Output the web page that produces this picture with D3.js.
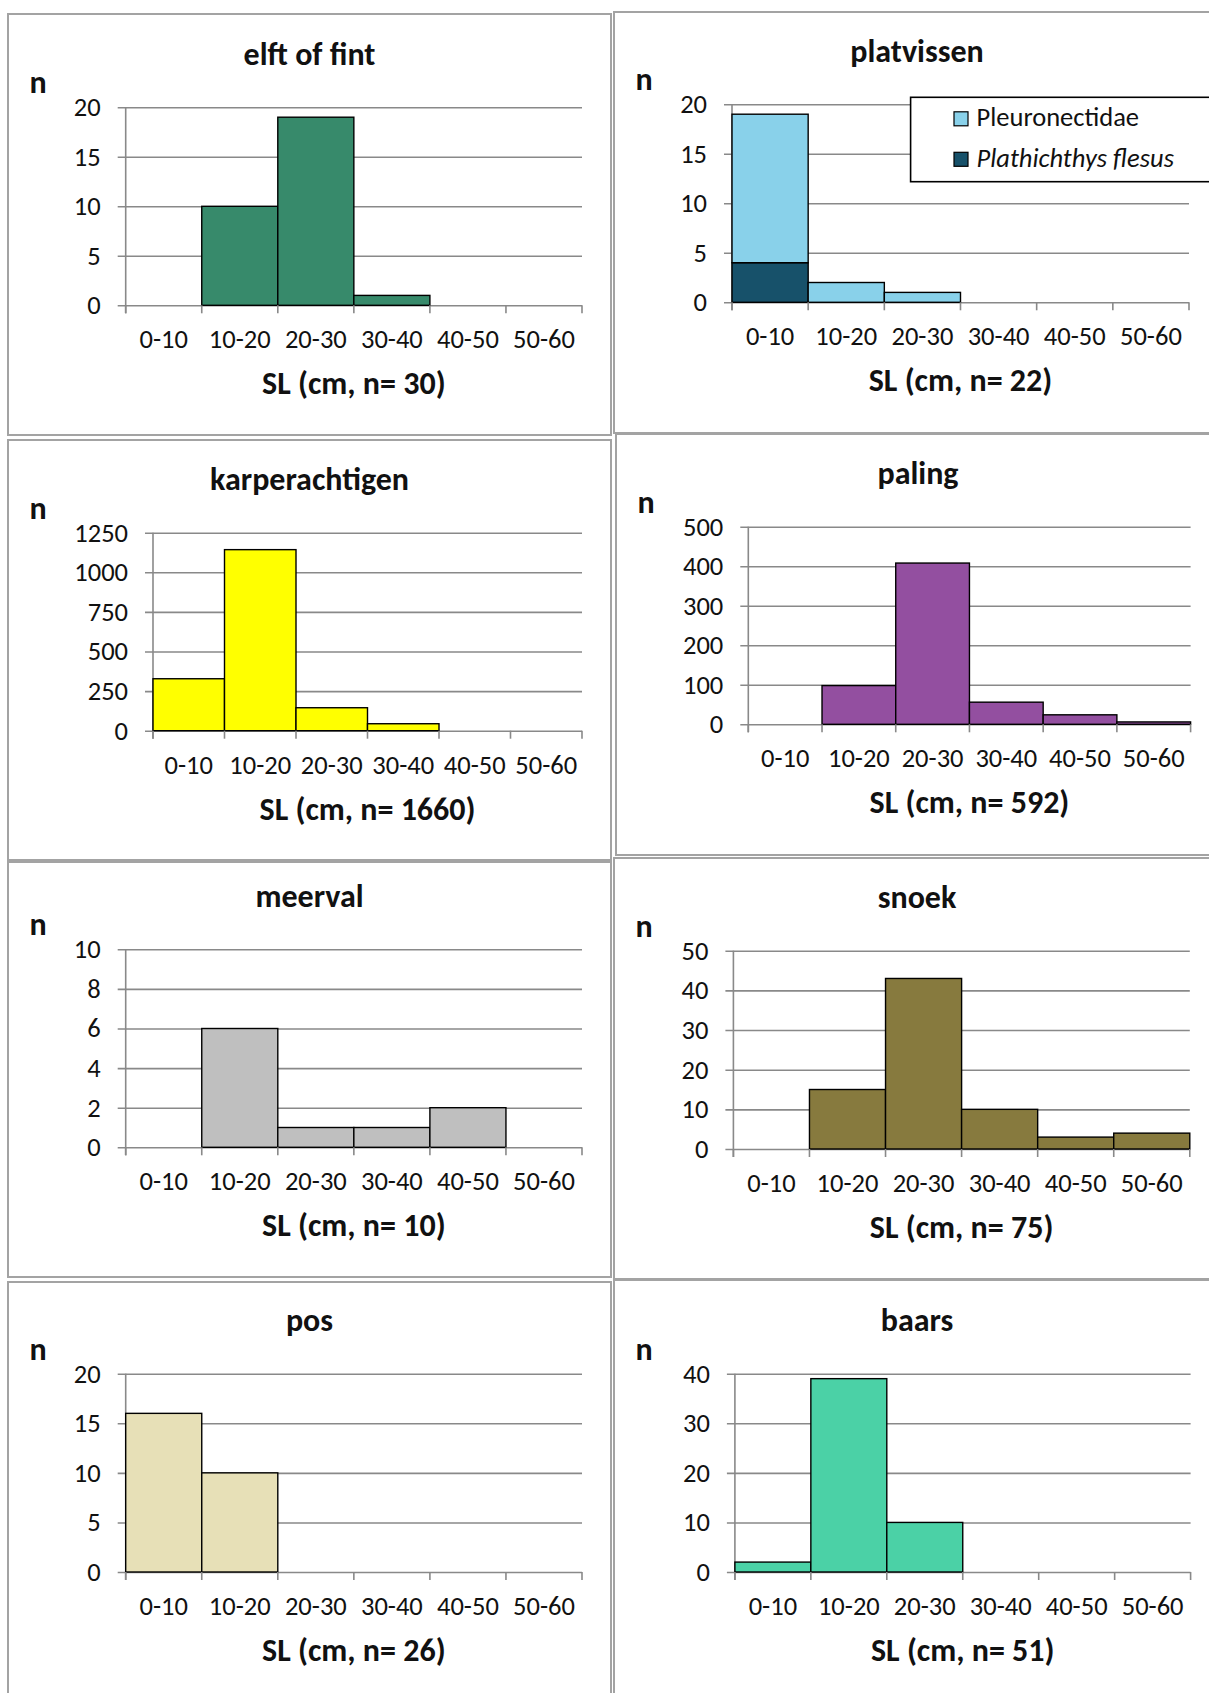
<!DOCTYPE html>
<html>
<head>
<meta charset="utf-8">
<script src="https://cdn.jsdelivr.net/npm/d3@7"></script>
<style>
  html, body { margin: 0; padding: 0; background: #fff; }
  svg { display: block; }
  text { font-family: Carlito, Calibri, Lato, "Open Sans", sans-serif; fill: #111; }
</style>
</head>
<body>
<svg id="chart" width="1209" height="1693"></svg>
<script>
// ---------------- data ----------------
const categories = ["0-10", "10-20", "20-30", "30-40", "40-50", "50-60"];

const titles = ["elft of fint", "platvissen", "karperachtigen", "paling",
                "meerval", "snoek", "pos", "baars"];
const xTitles = ["SL (cm, n= 30)", "SL (cm, n= 22)", "SL (cm, n= 1660)", "SL (cm, n= 592)",
                 "SL (cm, n= 10)", "SL (cm, n= 75)", "SL (cm, n= 26)", "SL (cm, n= 51)"];

const elftValues     = [0, 10, 19, 1, 0, 0];
const pleuroValues   = [15, 2, 1, 0, 0, 0];   // Pleuronectidae (stacked on top)
const flesusValues   = [4, 0, 0, 0, 0, 0];    // Plathichthys flesus
const karperValues   = [328, 1143, 145, 44, 0, 0];
const palingValues   = [0, 98, 408, 56, 24, 6];
const meervalValues  = [0, 6, 1, 1, 2, 0];
const snoekValues    = [0, 15, 43, 10, 3, 4];
const posValues      = [16, 10, 0, 0, 0, 0];
const baarsValues    = [2, 39, 10, 0, 0, 0];

const yTicks1 = [0, 5, 10, 15, 20];
const yTicks2 = [0, 5, 10, 15, 20];
const yTicks3 = [0, 250, 500, 750, 1000, 1250];
const yTicks4 = [0, 100, 200, 300, 400, 500];
const yTicks5 = [0, 2, 4, 6, 8, 10];
const yTicks6 = [0, 10, 20, 30, 40, 50];
const yTicks7 = [0, 5, 10, 15, 20];
const yTicks8 = [0, 10, 20, 30, 40];

const legendLabels = ["Pleuronectidae", "Plathichthys flesus"];

// ---------------- styles / layout ----------------
const colors = ["#378A6B", null, "#FFFF00", "#934FA0", "#BFBFBF", "#877A3E", "#E7E0B7", "#4BD1A6"];
const pleuroColor = "#89D1EA", flesusColor = "#17516A";

const layout = [
  {box: [8, 14, 611, 435],     x0: 125.7, x1: 582,    yTop: 107.3,  y0: 305.3},
  {box: [614, 12, 1220, 433],  x0: 732,   x1: 1189,   yTop: 104.3,  y0: 302.3},
  {box: [8, 440, 611, 860],    x0: 153,   x1: 582,    yTop: 532.7,  y0: 730.7},
  {box: [616, 434, 1220, 855], x0: 748.3, x1: 1190.6, yTop: 526.7,  y0: 724.3},
  {box: [8, 862, 611, 1277],   x0: 125.7, x1: 582,    yTop: 949.3,  y0: 1147.3},
  {box: [614, 858, 1220, 1279],x0: 733.4, x1: 1189.8, yTop: 950.7,  y0: 1149},
  {box: [8, 1282, 611, 1710],  x0: 125.7, x1: 582,    yTop: 1373.7, y0: 1572},
  {box: [614, 1280, 1220, 1710],x0: 734.9, x1: 1190.6, yTop: 1373.7, y0: 1572}
];

const tickFont = 26.5, titleFont = 32;
const gridColor = "#898989";

const panels = [
  {values: elftValues, ticks: yTicks1},
  {stack: true, ticks: yTicks2},
  {values: karperValues, ticks: yTicks3},
  {values: palingValues, ticks: yTicks4},
  {values: meervalValues, ticks: yTicks5},
  {values: snoekValues, ticks: yTicks6},
  {values: posValues, ticks: yTicks7},
  {values: baarsValues, ticks: yTicks8}
];

const svg = d3.select("#chart");

panels.forEach((p, i) => {
  const L = layout[i];
  const g = svg.append("g");
  const [bx0, by0, bx1, by1] = L.box;

  // panel frame
  g.append("rect")
    .attr("x", bx0).attr("y", by0)
    .attr("width", bx1 - bx0).attr("height", by1 - by0)
    .attr("fill", "#fff").attr("stroke", "#a3a3a3").attr("stroke-width", 2);

  const x = d3.scaleBand().domain(categories).range([L.x0, L.x1]).paddingInner(0).paddingOuter(0);
  const yMax = p.ticks[p.ticks.length - 1];
  const y = d3.scaleLinear().domain([0, yMax]).range([L.y0, L.yTop]);

  // y axis with gridlines
  const yAxis = d3.axisLeft(y).tickValues(p.ticks)
    .tickSize(-(L.x1 - L.x0 + 8)).tickPadding(17).tickFormat(d3.format("d"));
  const ya = g.append("g").attr("transform", `translate(${L.x0 - 8},0)`).call(yAxis);
  ya.select(".domain").remove();
  ya.selectAll(".tick line").attr("stroke", gridColor).attr("stroke-width", 1.6);
  ya.selectAll(".tick text")
    .style("font-family", "Carlito, Calibri, Lato, sans-serif")
    .style("font-size", tickFont + "px").attr("fill", "#111");

  // vertical axis line
  g.append("line")
    .attr("x1", L.x0).attr("x2", L.x0)
    .attr("y1", y(yMax)).attr("y2", y(0) + 8)
    .attr("stroke", gridColor).attr("stroke-width", 1.6);

  // bars
  if (p.stack) {
    const rows = categories.map((c, k) => ({cat: c, flesus: flesusValues[k], pleuro: pleuroValues[k]}));
    const series = d3.stack().keys(["flesus", "pleuro"])(rows);
    const fills = {flesus: flesusColor, pleuro: pleuroColor};
    series.forEach(s => {
      g.append("g").selectAll("rect")
        .data(s.filter(d => d[1] - d[0] > 0))
        .join("rect")
        .attr("x", d => x(d.data.cat))
        .attr("width", x.bandwidth())
        .attr("y", d => y(d[1]))
        .attr("height", d => y(d[0]) - y(d[1]))
        .attr("fill", fills[s.key])
        .attr("stroke", "#000").attr("stroke-width", 1.4);
    });
  } else {
    g.append("g").selectAll("rect")
      .data(categories.map((c, k) => ({cat: c, v: p.values[k]})).filter(d => d.v > 0))
      .join("rect")
      .attr("x", d => x(d.cat))
      .attr("width", x.bandwidth())
      .attr("y", d => y(d.v))
      .attr("height", d => y(0) - y(d.v))
      .attr("fill", colors[i])
      .attr("stroke", "#000").attr("stroke-width", 1.4);
  }

  // x axis: boundary ticks
  const bounds = categories.map(c => x(c)).concat([L.x1]);
  g.append("g").selectAll("line")
    .data(bounds)
    .join("line")
    .attr("x1", d => d).attr("x2", d => d)
    .attr("y1", y(0)).attr("y2", y(0) + 8)
    .attr("stroke", gridColor).attr("stroke-width", 1.6);

  // x axis labels
  const xAxis = d3.axisBottom(x).tickSize(0).tickPadding(0);
  const xa = g.append("g").attr("transform", `translate(0,${y(0)})`).call(xAxis);
  xa.select(".domain").remove();
  xa.selectAll(".tick text")
    .attr("y", 43).attr("dy", 0)
    .style("font-family", "Carlito, Calibri, Lato, sans-serif")
    .style("font-size", tickFont + "px").attr("fill", "#111");

  // x title
  g.append("text")
    .attr("x", (L.x0 + L.x1) / 2).attr("y", y(0) + 89)
    .attr("text-anchor", "middle")
    .style("font-size", titleFont + "px").style("font-weight", "bold")
    .text(xTitles[i]);

  // chart title
  g.append("text")
    .attr("x", (bx0 + bx1) / 2).attr("y", y(yMax) - 42.3)
    .attr("text-anchor", "middle")
    .style("font-size", titleFont + "px").style("font-weight", "bold")
    .text(titles[i]);

  // "n" label
  g.append("text")
    .attr("x", bx0 + 30).attr("y", y(yMax) - 14)
    .attr("text-anchor", "middle")
    .style("font-size", titleFont + "px").style("font-weight", "bold")
    .text("n");

  // legend for the stacked panel
  if (p.stack) {
    const lg = g.append("g");
    lg.append("rect")
      .attr("x", 910.6).attr("y", y(yMax) - 7)
      .attr("width", 320).attr("height", 84.4)
      .attr("fill", "#fff").attr("stroke", "#000").attr("stroke-width", 1.6);
    const items = [{label: legendLabels[0], color: pleuroColor, italic: false},
                   {label: legendLabels[1], color: flesusColor, italic: true}];
    items.forEach((it, k) => {
      const cy = y(yMax) + 14.5 + k * 40.5;
      lg.append("rect")
        .attr("x", 954).attr("y", cy - 7)
        .attr("width", 14).attr("height", 14)
        .attr("fill", it.color).attr("stroke", "#000").attr("stroke-width", 1.2);
      lg.append("text")
        .attr("x", 976.5).attr("y", cy + 7.5)
        .style("font-size", tickFont + "px")
        .style("font-style", it.italic ? "italic" : "normal")
        .text(it.label);
    });
  }
});
</script>
</body>
</html>
